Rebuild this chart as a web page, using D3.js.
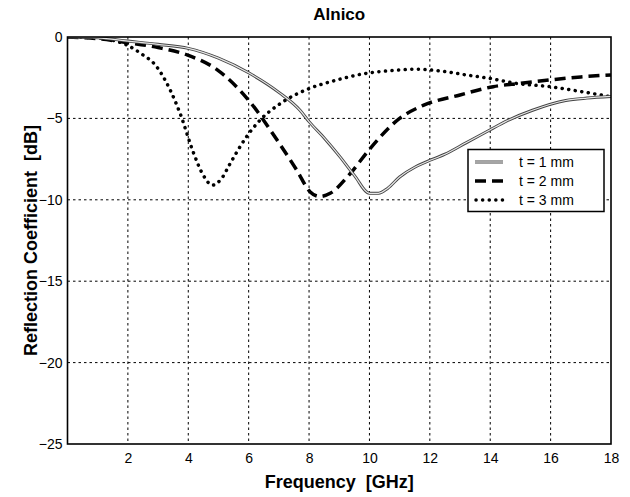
<!DOCTYPE html>
<html><head><meta charset="utf-8">
<script src="https://cdn.jsdelivr.net/npm/d3@7"></script>
<style>
body{margin:0;background:#fff;}
text{font-family:"Liberation Sans",Arial,sans-serif;fill:#000;}
</style></head>
<body><svg id="c" width="630" height="497"></svg>
<script>
const xTicks = [2,4,6,8,10,12,14,16,18];
const yTicks = [0,-5,-10,-15,-20,-25];
const t1F = [0,1,2,3,4,5,6,7,7.7,8,8.5,9,9.5,10,10.3,10.6,11,11.5,11.9,12.5,13.2,14,14.5,15.4,16.5,17.2,18];
const t1V = [0,-0.05,-0.25,-0.45,-0.7,-1.3,-2.2,-3.4,-4.5,-5.2,-6.2,-7.3,-8.5,-9.6,-9.6,-9.3,-8.6,-8.0,-7.66,-7.2,-6.5,-5.7,-5.2,-4.5,-3.9,-3.75,-3.65];
const t2F = [0,1,2,3,3.96,4.95,6.05,6.93,7.6,8.03,8.36,8.7,9.36,10,11,11.78,13,14.1,15,15.97,17,18];
const t2V = [0,-0.1,-0.35,-0.65,-1.1,-2.0,-4.0,-6.3,-8.2,-9.5,-9.8,-9.6,-8.4,-6.9,-5.0,-4.2,-3.56,-3.05,-2.85,-2.64,-2.45,-2.33];
const t3F = [0,1,1.5,1.97,2.5,2.85,3.4,3.73,4.17,4.5,4.8,5.1,5.39,5.94,6.38,7.04,8.03,8.8,9.9,10.8,11.56,12.4,13.2,14,14.87,15.97,17,18];
const t3V = [0,-0.05,-0.2,-0.5,-1.1,-1.6,-3.25,-4.7,-7.1,-8.5,-9.1,-8.7,-7.76,-6.1,-5.1,-4.1,-3.15,-2.7,-2.23,-2.05,-1.98,-2.1,-2.33,-2.55,-2.85,-3.05,-3.35,-3.67];
const seriesLabels = ["t = 1 mm","t = 2 mm","t = 3 mm"];
const titleText = "Alnico";
const xLabel = "Frequency  [GHz]";
const yLabel = "Reflection Coefficient  [dB]";

const svg = d3.select("#c");
const L=67.5, R=611, T=37, B=444;
const x = d3.scaleLinear().domain([0,18]).range([L,R]);
const y = d3.scaleLinear().domain([-25,0]).range([B,T]);

// grid
const g = svg.append("g");
g.selectAll(".gx").data(xTicks.filter(d=>d<18)).join("line")
 .attr("x1",d=>x(d)).attr("x2",d=>x(d)).attr("y1",T).attr("y2",B)
 .attr("stroke","#000").attr("stroke-width",1).attr("stroke-dasharray","2.5,3");
g.selectAll(".gy").data(yTicks.filter(d=>d<0&&d>-25)).join("line")
 .attr("y1",d=>y(d)).attr("y2",d=>y(d)).attr("x1",L).attr("x2",R)
 .attr("stroke","#000").attr("stroke-width",1).attr("stroke-dasharray","2.5,3");

// axes
const xa = svg.append("g").attr("transform",`translate(0,${B})`)
 .call(d3.axisBottom(x).tickValues(xTicks).tickSize(0).tickPadding(9));
xa.select(".domain").remove();
xa.selectAll("text").style("font-size","14px");
const ya = svg.append("g").attr("transform",`translate(${L},0)`)
 .call(d3.axisLeft(y).tickValues(yTicks).tickSize(0).tickPadding(5).tickFormat(d3.format("d")));
ya.select(".domain").remove();
ya.selectAll("text").style("font-size","14px");

// curves
const line = d3.line().x(d=>x(d[0])).y(d=>y(d[1])).curve(d3.curveMonotoneX);
const d1 = t1F.map((f,i)=>[f,t1V[i]]);
const d2 = t2F.map((f,i)=>[f,t2V[i]]);
const d3v = t3F.map((f,i)=>[f,t3V[i]]);
svg.append("clipPath").attr("id","cp").append("rect").attr("x",L).attr("y",T).attr("width",R-L).attr("height",B-T);
const pg = svg.append("g").attr("clip-path","url(#cp)");
pg.append("path").datum(d3v).attr("d",line).attr("fill","none").attr("stroke","#000")
 .attr("stroke-width",3.5).attr("stroke-dasharray","0.1,6.5").attr("stroke-linecap","round");
pg.append("path").datum(d2).attr("d",line).attr("fill","none").attr("stroke","#000")
 .attr("stroke-width",3.5).attr("stroke-dasharray","11,6");
pg.append("path").datum(d1).attr("d",line).attr("fill","none").attr("stroke","#444").attr("stroke-width",3);
pg.append("path").datum(d1).attr("d",line).attr("fill","none").attr("stroke","#e6e6e6").attr("stroke-width",1.2);

// frame
svg.append("rect").attr("x",L).attr("y",T).attr("width",R-L).attr("height",B-T)
 .attr("fill","none").attr("stroke","#000").attr("stroke-width",1.6);

// legend
const lg = svg.append("g");
lg.append("rect").attr("x",468).attr("y",149.5).attr("width",136).attr("height",62)
 .attr("fill","#fff").attr("stroke","#000").attr("stroke-width",1.5);
const rows=[162,181,200];
lg.append("line").attr("x1",475).attr("x2",503).attr("y1",rows[0]).attr("y2",rows[0]).attr("stroke","#444").attr("stroke-width",3);
lg.append("line").attr("x1",475).attr("x2",503).attr("y1",rows[0]).attr("y2",rows[0]).attr("stroke","#e6e6e6").attr("stroke-width",1.2);
lg.append("line").attr("x1",475).attr("x2",503).attr("y1",rows[1]).attr("y2",rows[1]).attr("stroke","#000").attr("stroke-width",3.5).attr("stroke-dasharray","11,6");
lg.append("line").attr("x1",476).attr("x2",503).attr("y1",rows[2]).attr("y2",rows[2]).attr("stroke","#000").attr("stroke-width",3.5).attr("stroke-dasharray","0.1,6.5").attr("stroke-linecap","round");
lg.selectAll(".lt").data(seriesLabels).join("text").attr("x",519).attr("y",(d,i)=>rows[i]).attr("dy","0.35em")
 .style("font-size","14px").text(d=>d);

// titles
svg.append("text").attr("x",(L+R)/2).attr("y",20).attr("text-anchor","middle")
 .style("font-size","17px").style("font-weight","bold").text(titleText);
svg.append("text").attr("x",(L+R)/2).attr("y",488).attr("text-anchor","middle")
 .style("font-size","18px").style("font-weight","bold").style("white-space","pre").text(xLabel);
svg.append("text").attr("transform",`translate(37,${(T+B)/2}) rotate(-90)`).attr("text-anchor","middle")
 .style("font-size","18px").style("font-weight","bold").style("white-space","pre").text(yLabel);
</script></body></html>
